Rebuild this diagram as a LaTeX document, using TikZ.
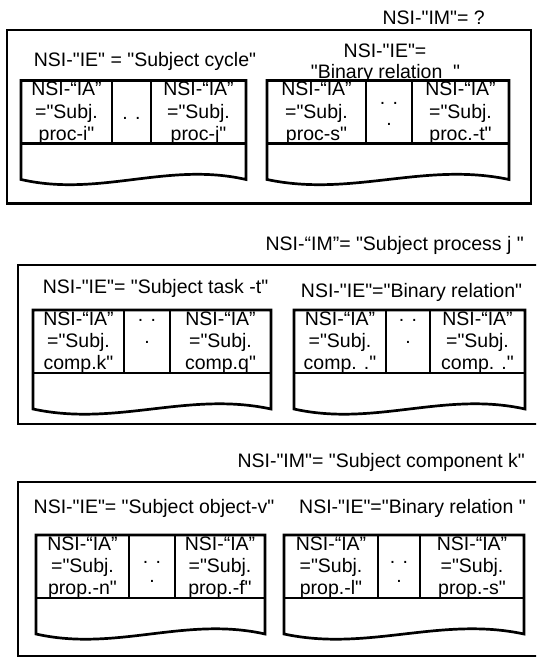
\documentclass[tikz,border=0pt]{standalone}
\usepackage{fontspec}
\setmainfont{Liberation Sans}[Ligatures=TeXOff]
\tikzset{
  lab/.style={anchor=base, inner sep=0pt, font=\fontsize{19.5}{22}\selectfont},
  labE/.style={lab, anchor=base east},
  frame/.style={line width=2.2pt},
  tbl/.style={line width=2.7pt, line join=miter},
  sep/.style={line width=2.2pt},
}
% #1 name, #2 x0, #3 divider1, #4 divider2, #5 x1, #6 top
\newcommand\doctable[6]{%
  \pgfmathsetmacro\tH{#6+63}%
  \pgfmathsetmacro\tB{#6+99}%
  \pgfmathsetmacro\cA{#2+0.35*(#5-#2)}%
  \pgfmathsetmacro\cB{#2+0.65*(#5-#2)}%
  \pgfmathsetmacro\wA{\tB+18}%
  \pgfmathsetmacro\wB{\tB-18}%
  \coordinate (#1-nw) at (#2,#6);
  \coordinate (#1-ne) at (#5,#6);
  \draw[tbl] (#2,#6) -- (#2,\tB) .. controls (\cA,\wA) and (\cB,\wB) .. (#5,\tB) -- (#5,#6) -- cycle;
  \draw[sep] (#2,\tH) -- (#5,\tH);
  \draw[sep] (#3,#6) -- (#3,\tH) (#4,#6) -- (#4,\tH);
}
% #1 name, #2 x centre, #3 top, #4 #5 #6 lines
\newcommand\celltext[6]{%
  \pgfmathsetmacro\bA{#3+15.5}%
  \pgfmathsetmacro\bB{#3+37.5}%
  \pgfmathsetmacro\bC{#3+59.5}%
  \node[lab] (#1-1) at (#2,\bA) {#4};
  \node[lab] (#1-2) at (#2,\bB) {#5};
  \node[lab] (#1-3) at (#2,\bC) {#6};
}
\begin{document}
\begin{tikzpicture}[x=1pt, y=-1pt]
\clip (0,0) rectangle (536,658);

% ---------------- panel 1 ----------------
\node[labE] (im1) at (485,25) {NSI-"IM"= ?};
\draw[frame] (7,30) rectangle (531,203.5);
\node[lab] (ie1a) at (145,67) {NSI-"IE" = "Subject cycle"};
\node[lab] (ie1b) at (385,58) {NSI-"IE"=};
\node[lab] (ie1c) at (385.5,79) {"Binary relation\ \ "};
\doctable{t1a}{21}{112}{151}{246}{80.5}
\celltext{c1a}{66.5}{80.5}{NSI-“IA”}{="Subj.}{proc-i"}
\node[lab] (d1a) at (131.5,120) {. .};
\celltext{c1b}{198.5}{80.5}{NSI-“IA”}{="Subj.}{proc-j"}
\doctable{t1b}{267}{366}{412}{509}{80.5}
\celltext{c1c}{316.5}{80.5}{NSI-“IA”}{="Subj.}{proc-s"}
\node[lab] (d1b) at (389,105) {. .};
\node[lab] (d1c) at (389,125) {.};
\celltext{c1d}{460.5}{80.5}{NSI-“IA”}{="Subj.}{proc.-t"}

% ---------------- panel 2 ----------------
\node[labE] (im2) at (524,250) {NSI-“IM”= "Subject process j "};
\draw[frame] (18,265) rectangle (545,424);
\node[lab] (ie2a) at (155.5,293) {NSI-"IE"= "Subject task -t"};
\node[lab] (ie2b) at (411.5,297) {NSI-"IE"="Binary relation"};
\doctable{t2a}{33}{124}{170}{271}{310}
\celltext{c2a}{78.5}{310}{NSI-“IA”}{="Subj.}{comp.k"}
\node[lab] (d2a) at (147,321.5) {. .};
\node[lab] (d2b) at (147,343.5) {.};
\celltext{c2b}{220.5}{310}{NSI-“IA”}{="Subj.}{comp.q"}
\doctable{t2b}{294}{386}{430}{525}{310}
\celltext{c2c}{340}{310}{NSI-“IA”}{="Subj.}{comp. ."}
\node[lab] (d2c) at (408,321.5) {. .};
\node[lab] (d2d) at (408,343.5) {.};
\celltext{c2d}{477.5}{310}{NSI-“IA”}{="Subj.}{comp. ."}

% ---------------- panel 3 ----------------
\node[labE] (im3) at (525,467) {NSI-"IM"= "Subject component k"};
\draw[frame] (18,482) rectangle (545,656);
\node[lab] (ie3a) at (154,513) {NSI-"IE"= "Subject object-v"};
\node[lab] (ie3b) at (412.5,513) {NSI-"IE"="Binary relation "};
\doctable{t3a}{36}{129}{175}{265}{535}
\celltext{c3a}{82.5}{535}{NSI-“IA”}{="Subj.}{prop.-n"}
\node[lab] (d3a) at (152,563.5) {. .};
\node[lab] (d3b) at (152,582.5) {.};
\celltext{c3b}{220}{535}{NSI-“IA”}{="Subj.}{prop.-f"}
\doctable{t3b}{284}{378}{420}{524}{535}
\celltext{c3c}{331}{535}{NSI-“IA”}{="Subj.}{prop.-l"}
\node[lab] (d3c) at (399,563.5) {. .};
\node[lab] (d3d) at (399,582.5) {.};
\celltext{c3d}{472}{535}{NSI-“IA”}{="Subj.}{prop.-s"}
\end{tikzpicture}
\end{document}
